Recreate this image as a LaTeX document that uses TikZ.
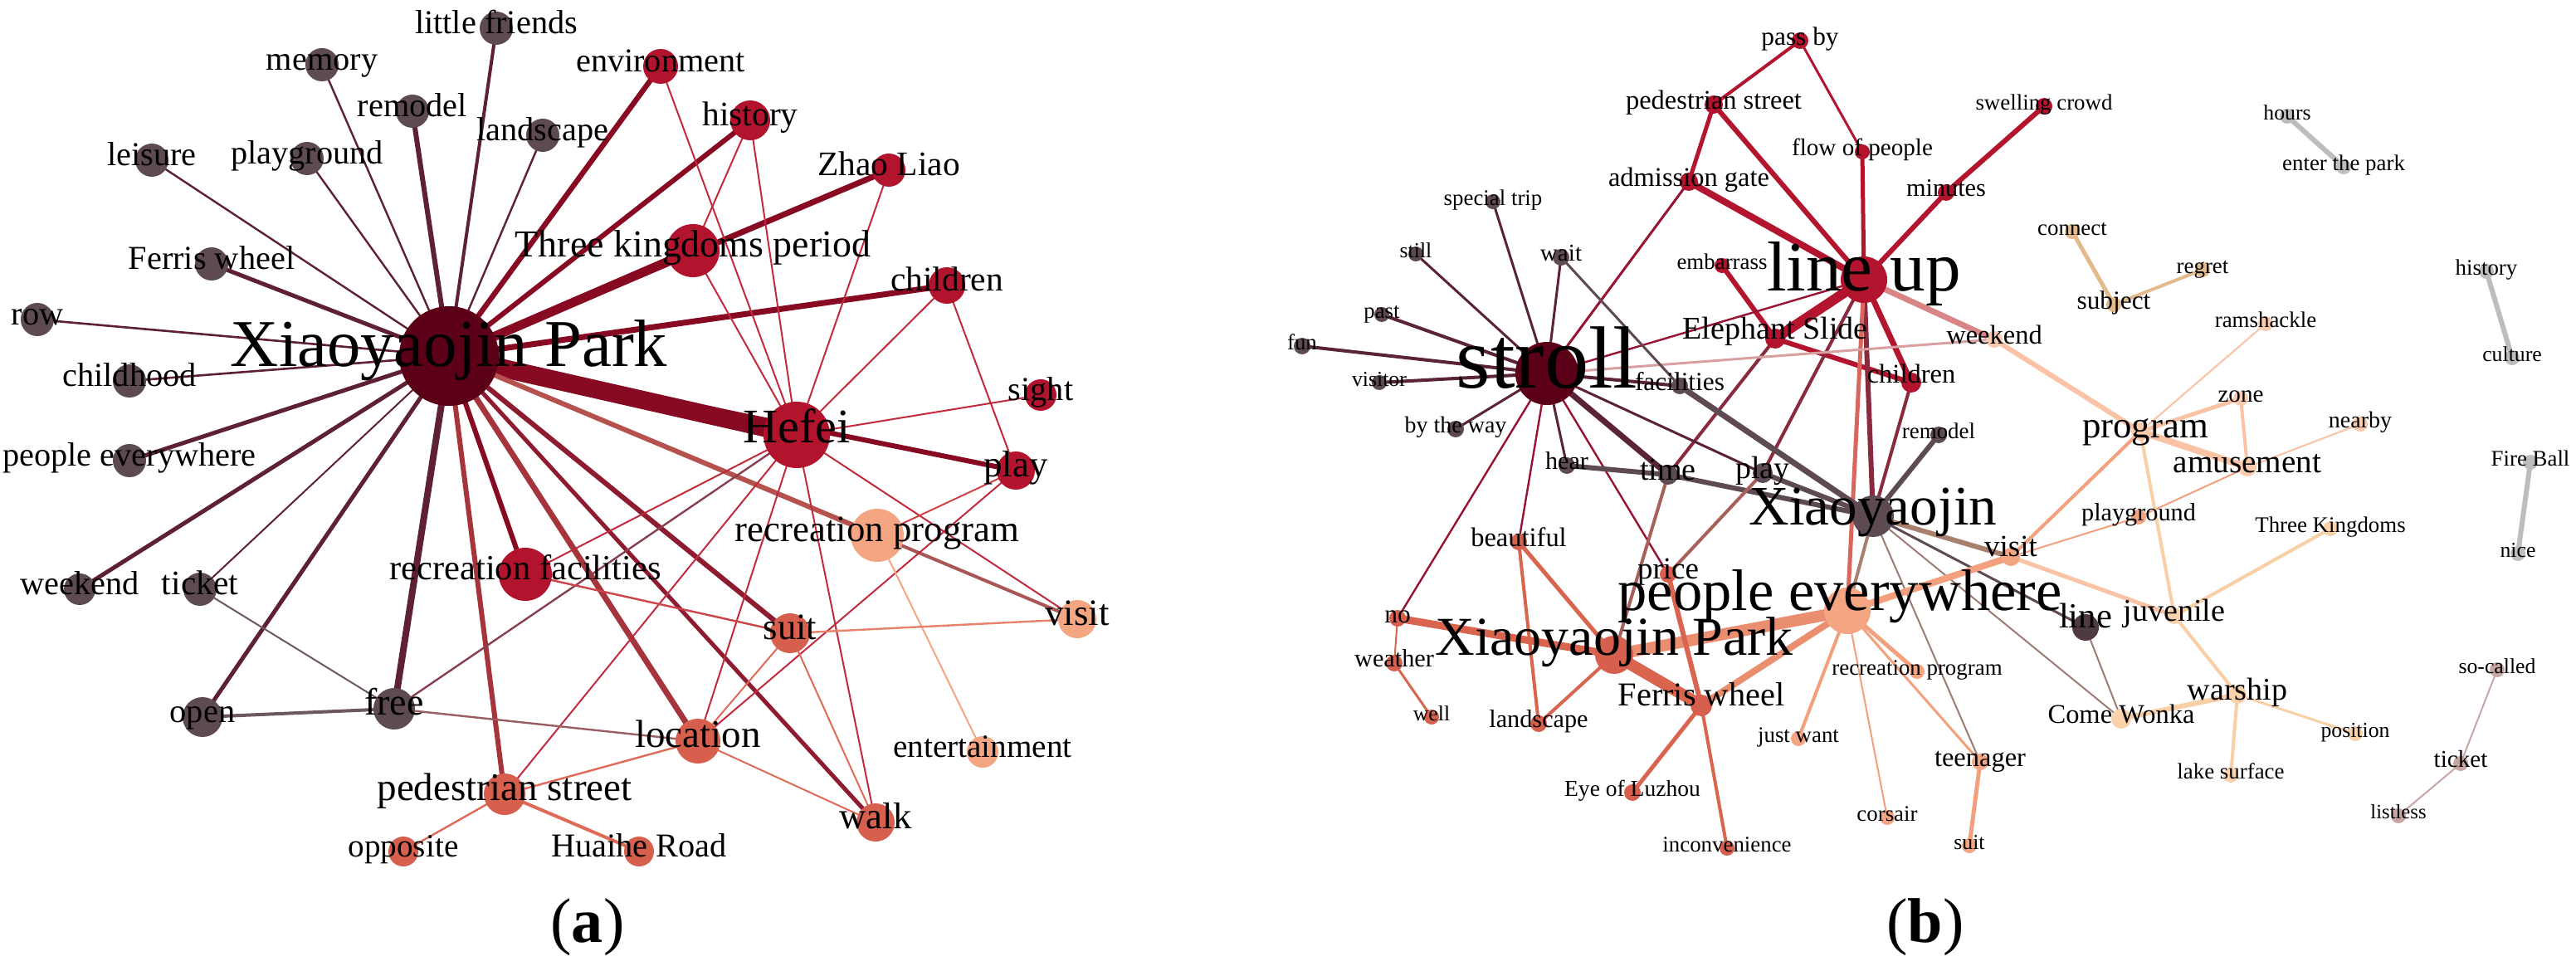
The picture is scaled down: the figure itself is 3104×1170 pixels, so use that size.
\documentclass[tikz,border=0pt]{standalone}
\usepackage{fontspec}
\setmainfont{Liberation Serif}[Scale=1.12]
\pgfdeclarelayer{bg}
\pgfdeclarelayer{edges}
\pgfsetlayers{bg,edges,main}
\definecolor{xpd}{HTML}{5C0017}
\definecolor{crim}{HTML}{B2142D}
\definecolor{mauve}{HTML}{5E4A52}
\definecolor{mauveD}{HTML}{4E3A42}
\definecolor{coral}{HTML}{D6604D}
\definecolor{salmon}{HTML}{F4A582}
\definecolor{peach}{HTML}{FBCBAE}
\definecolor{apricot}{HTML}{FAD2AC}
\definecolor{tanc}{HTML}{E2BA8C}
\definecolor{lgray}{HTML}{BDBDBD}
\definecolor{rosy}{HTML}{C8A6A4}
% edge colours
\definecolor{eXc}{HTML}{880A22}
\definecolor{eXm}{HTML}{5E2035}
\definecolor{eXco}{HTML}{A5343C}
\definecolor{eXs}{HTML}{B5524E}
\definecolor{eXr}{HTML}{8E1B30}
\definecolor{ecc}{HTML}{C22A3E}
\definecolor{emc}{HTML}{88404F}
\definecolor{ecco}{HTML}{CC4448}
\definecolor{ecos}{HTML}{E8826C}
\definecolor{ecor}{HTML}{E06A58}
\definecolor{emco}{HTML}{9A5E62}
\definecolor{emma}{HTML}{6E5860}
\definecolor{erv}{HTML}{A85656}
\definecolor{elu}{HTML}{B3152E}
\definecolor{esm}{HTML}{5B2338}
\definecolor{esc}{HTML}{9A1232}
\definecolor{emm}{HTML}{5E4A52}
\definecolor{elm}{HTML}{8A2A3E}
\definecolor{elpe}{HTML}{D8665E}
\definecolor{elw}{HTML}{D98585}
\definecolor{esw}{HTML}{D8A0A0}
\definecolor{emcob}{HTML}{A8605A}
\definecolor{ems}{HTML}{A8806E}
\definecolor{emp}{HTML}{9C7C74}
\definecolor{ecos2}{HTML}{EA8E70}
\definecolor{ecob}{HTML}{D9654F}
\definecolor{esal}{HTML}{F2A07E}
\definecolor{epch}{HTML}{FAC3A6}
\definecolor{eapr}{HTML}{F9CFA6}
\newcommand{\V}[5]{\node[vtx,fill=#5,minimum size=#4pt] (#1) at (#2,#3) {};}
\newcommand{\E}[4]{\draw[line width=#3pt,draw=#4] (#1.center) -- (#2.center);}
\newcommand{\Lb}[4][0]{\node[lbl,font=\fontsize{#3}{#3}\selectfont,anchor=base,yshift=-0.18*#3pt,yshift=#1pt] at (#2.center) {#4};}
\newcommand{\Lc}[5]{\node[lbl,font=\fontsize{#2}{#2}\selectfont,anchor=base,yshift=-0.18*#2pt,yshift=#4pt,xshift=#3pt] at (#1.center) {#5};}
\begin{document}
\begin{tikzpicture}[x=0.5pt,y=-0.5pt,
  vtx/.style={circle,inner sep=0pt,draw=none},
  lbl/.style={inner sep=0pt,text=black}]
\begin{pgfonlayer}{bg}
\fill[white] (0,0) rectangle (3104,1170);
\end{pgfonlayer}
\useasboundingbox (0,0) rectangle (3104,1170);
% ================= (a) =================
\V{aLF}{598}{34}{20}{mauve}
\V{aMem}{388}{78}{20}{mauve}
\V{aEnv}{796}{80}{21}{crim}
\V{aRem}{497}{134}{20}{mauve}
\V{aHis}{904}{145}{24}{crim}
\V{aLan}{654}{163}{20}{mauve}
\V{aLei}{183}{193}{20}{mauve}
\V{aPlg}{370}{191}{20}{mauve}
\V{aZL}{1071}{205}{20}{crim}
\V{aTK}{835}{302}{32}{crim}
\V{aFW}{255}{318}{20}{mauve}
\V{aChi}{1141}{344}{22}{crim}
\V{aRow}{45}{385}{20}{mauve}
\V{aXP}{541}{429}{60}{xpd}
\V{aChh}{156}{459}{20}{mauve}
\V{aSig}{1254}{476}{19}{crim}
\V{aHef}{960}{524}{40}{crim}
\V{aPE}{156}{555}{20}{mauve}
\V{aPla}{1224}{567}{23}{crim}
\V{aRP}{1057}{645}{32}{salmon}
\V{aRF}{633}{692}{32}{crim}
\V{aWee}{96}{710}{19}{mauve}
\V{aTic}{241}{710}{20}{mauve}
\V{aVis}{1298}{746}{23}{salmon}
\V{aSui}{952}{763}{24}{coral}
\V{aFre}{475}{854}{25}{mauve}
\V{aOpe}{244}{864}{24}{mauve}
\V{aLoc}{841}{893}{27}{coral}
\V{aEnt}{1184}{906}{19}{salmon}
\V{aPS}{608}{957}{25}{coral}
\V{aWal}{1055}{991}{23}{coral}
\V{aOpp}{486}{1026}{18}{coral}
\V{aHR}{770}{1026}{18}{coral}
% ================= (b) =================
\V{bST}{1799}{243}{9}{mauve}
\V{bSti}{1706}{306}{9}{mauve}
\V{bWai}{1881}{310}{10}{mauve}
\V{bPas}{1665}{379}{9}{mauve}
\V{bFun}{1569}{417}{10}{mauve}
\V{bVis}{1662}{461}{9}{mauve}
\V{bBTW}{1754}{517}{10}{mauve}
\V{bHea}{1888}{561}{10}{mauve}
\V{bStr}{1864}{450}{38}{xpd}
\V{bFac}{2024}{465}{10}{mauve}
\V{bTim}{2010}{572}{12}{mauve}
\V{bPla}{2124}{570}{12}{mauve}
\V{bXj}{2257}{622}{25}{mauve}
\V{bRem}{2336}{524}{10}{mauve}
\V{bLin}{2513}{756}{16}{mauveD}
\V{bPB}{2169}{49}{10}{crim}
\V{bPS}{2065}{126}{11}{crim}
\V{bFoP}{2244}{183}{9}{crim}
\V{bAG}{2035}{219}{11}{crim}
\V{bMin}{2345}{232}{10}{crim}
\V{bSwC}{2463}{128}{10}{crim}
\V{bEmb}{2075}{320}{9}{crim}
\V{bLU}{2246}{337}{28}{crim}
\V{bES}{2139}{408}{12}{crim}
\V{bChi}{2303}{461}{12}{crim}
\V{bBea}{1830}{653}{10}{coral}
\V{bPri}{2010}{692}{10}{coral}
\V{bNo}{1684}{745}{10}{coral}
\V{bXPb}{1945}{789}{23}{coral}
\V{bWea}{1680}{799}{10}{coral}
\V{bFWb}{2050}{850}{13}{coral}
\V{bWel}{1725}{864}{9}{coral}
\V{bLan}{1854}{872}{10}{coral}
\V{bEoL}{1967}{955}{10}{coral}
\V{bInc}{2081}{1022}{9}{coral}
\V{bPE}{2226}{736}{28}{salmon}
\V{bRP}{2310}{809}{9}{salmon}
\V{bJW}{2167}{890}{9}{salmon}
\V{bCor}{2274}{985}{9}{salmon}
\V{bTee}{2386}{918}{10}{salmon}
\V{bSui}{2373}{1019}{9}{salmon}
\V{bWee}{2403}{409}{10}{peach}
\V{bPro}{2579}{520}{11}{peach}
\V{bZon}{2700}{480}{9}{peach}
\V{bRam}{2730}{390}{9}{peach}
\V{bNea}{2844}{511}{9}{peach}
\V{bAmu}{2708}{563}{11}{peach}
\V{bPlgb}{2577}{623}{9}{salmon}
\V{bVisb}{2423}{671}{11}{salmon}
\V{bJuv}{2620}{742}{10}{apricot}
\V{bTKb}{2808}{637}{9}{apricot}
\V{bWar}{2696}{837}{11}{apricot}
\V{bCW}{2556}{866}{12}{apricot}
\V{bPos}{2838}{884}{9}{apricot}
\V{bLS}{2688}{934}{9}{apricot}
\V{bHou}{2756}{140}{9}{lgray}
\V{bEtP}{2824}{201}{9}{lgray}
\V{bCon}{2497}{279}{9}{tanc}
\V{bSub}{2547}{367}{9}{tanc}
\V{bReg}{2654}{325}{9}{tanc}
\V{bHisb}{2996}{327}{9}{lgray}
\V{bCul}{3027}{431}{9}{lgray}
\V{bFB}{3049}{557}{9}{lgray}
\V{bNic}{3034}{667}{9}{lgray}
\V{bSoC}{3009}{807}{9}{rosy}
\V{bTicb}{2965}{920}{9}{rosy}
\V{bLis}{2890}{983}{9}{rosy}
\begin{pgfonlayer}{edges}
% ---- (a) edges ----
\E{aXP}{aLF}{2}{eXm}
\E{aXP}{aMem}{1.2}{eXm}
\E{aXP}{aRem}{3}{eXm}
\E{aXP}{aLan}{1.2}{eXm}
\E{aXP}{aLei}{1.2}{eXm}
\E{aXP}{aPlg}{1.2}{eXm}
\E{aXP}{aFW}{2.5}{eXm}
\E{aXP}{aRow}{1.3}{eXm}
\E{aXP}{aChh}{1.3}{eXm}
\E{aXP}{aPE}{2.5}{eXm}
\E{aXP}{aWee}{2.5}{eXm}
\E{aXP}{aTic}{1}{eXm}
\E{aXP}{aOpe}{2.5}{eXm}
\E{aXP}{aFre}{4}{eXm}
\E{aXP}{aEnv}{3.2}{eXc}
\E{aXP}{aHis}{3}{eXc}
\E{aXP}{aZL}{3.5}{eXc}
\E{aXP}{aTK}{5.5}{eXc}
\E{aXP}{aChi}{3.5}{eXc}
\E{aXP}{aHef}{11}{eXc}
\E{aXP}{aPla}{3}{eXc}
\E{aXP}{aRP}{3}{eXs}
\E{aXP}{aRF}{3}{eXc}
\E{aXP}{aSui}{3}{eXr}
\E{aXP}{aLoc}{3.5}{eXco}
\E{aXP}{aWal}{2.5}{eXr}
\E{aXP}{aPS}{3}{eXco}
\E{aRP}{aVis}{2}{erv}
\E{aHef}{aEnv}{1}{ecc}
\E{aHef}{aHis}{1}{ecc}
\E{aHef}{aTK}{1}{ecc}
\E{aHef}{aZL}{1}{ecc}
\E{aHef}{aChi}{1}{ecc}
\E{aHef}{aSig}{1}{ecc}
\E{aHef}{aVis}{1}{ecc}
\E{aHef}{aWal}{1}{ecc}
\E{aHef}{aRF}{1}{ecc}
\E{aHef}{aFre}{1.2}{emc}
\E{aHef}{aPS}{1}{ecc}
\E{aHef}{aLoc}{1}{ecc}
\E{aHis}{aTK}{1}{ecc}
\E{aChi}{aPla}{1}{ecc}
\E{aPla}{aLoc}{1}{ecc}
\E{aPla}{aRP}{1}{ecco}
\E{aRP}{aEnt}{1}{salmon}
\E{aRF}{aSui}{1.2}{ecco}
\E{aSui}{aVis}{1.2}{ecos}
\E{aSui}{aLoc}{1}{ecor}
\E{aSui}{aWal}{1}{ecor}
\E{aLoc}{aWal}{1}{ecor}
\E{aLoc}{aPS}{1.2}{ecor}
\E{aLoc}{aFre}{1.2}{emco}
\E{aFre}{aTic}{1}{emma}
\E{aFre}{aOpe}{2}{emma}
\E{aPS}{aOpp}{1.2}{ecor}
\E{aPS}{aHR}{2}{ecor}
% ---- (b) edges ----
\E{bPB}{bPS}{2}{elu}
\E{bPB}{bFoP}{1.5}{elu}
\E{bPS}{bAG}{2.5}{elu}
\E{bPS}{bLU}{3}{elu}
\E{bAG}{bLU}{4}{elu}
\E{bAG}{bStr}{1.5}{esc}
\E{bFoP}{bLU}{2.5}{elu}
\E{bLU}{bMin}{3}{elu}
\E{bMin}{bSwC}{3}{elu}
\E{bEmb}{bES}{3}{elu}
\E{bES}{bLU}{6}{elu}
\E{bES}{bChi}{3}{elu}
\E{bLU}{bChi}{3.5}{elu}
\E{bLU}{bStr}{1.2}{esc}
\E{bLU}{bXj}{3}{elm}
\E{bLU}{bPE}{2.5}{elpe}
\E{bLU}{bWee}{3.5}{elw}
\E{bLU}{bPla}{2}{elm}
\E{bES}{bTim}{2}{elm}
\E{bChi}{bXj}{2}{elm}
\E{bStr}{bWee}{1.5}{esw}
\E{bStr}{bST}{1.5}{esm}
\E{bStr}{bSti}{1.5}{esm}
\E{bStr}{bPas}{2}{esm}
\E{bStr}{bFun}{2}{esm}
\E{bStr}{bVis}{2}{esm}
\E{bStr}{bBTW}{1.5}{esm}
\E{bStr}{bWai}{1.5}{esm}
\E{bStr}{bHea}{1.5}{esm}
\E{bStr}{bTim}{3.5}{esm}
\E{bStr}{bPla}{1.5}{esm}
\E{bStr}{bFac}{2}{esm}
\E{bStr}{bPri}{1.2}{esc}
\E{bStr}{bBea}{1.2}{esc}
\E{bStr}{bNo}{1.2}{esc}
\E{bWai}{bFac}{1.5}{emm}
\E{bFac}{bXj}{3.5}{emm}
\E{bHea}{bTim}{3}{emm}
\E{bTim}{bXj}{3}{emm}
\E{bPla}{bXj}{3}{emm}
\E{bRem}{bXj}{3}{emm}
\E{bTim}{bXPb}{2}{emcob}
\E{bPla}{bPri}{2}{emcob}
\E{bXj}{bPE}{2}{ems}
\E{bXj}{bVisb}{3}{ems}
\E{bXj}{bLin}{1.5}{emm}
\E{bXj}{bTee}{1}{emp}
\E{bXj}{bCW}{1}{emp}
\E{bLin}{bCW}{1}{emp}
\E{bPE}{bXPb}{7}{ecos2}
\E{bPE}{bFWb}{4}{ecos2}
\E{bPE}{bVisb}{4}{esal}
\E{bPE}{bRP}{2.5}{esal}
\E{bPE}{bJW}{2}{esal}
\E{bPE}{bCor}{1}{esal}
\E{bPE}{bTee}{1.5}{esal}
\E{bTee}{bSui}{2.5}{esal}
\E{bXPb}{bFWb}{7}{ecob}
\E{bXPb}{bNo}{4.5}{ecob}
\E{bXPb}{bBea}{2.5}{ecob}
\E{bXPb}{bLan}{2}{ecob}
\E{bBea}{bLan}{2}{ecob}
\E{bNo}{bWea}{1}{ecob}
\E{bWea}{bWel}{1.5}{ecob}
\E{bFWb}{bEoL}{2.5}{ecob}
\E{bFWb}{bInc}{2}{ecob}
\E{bPri}{bFWb}{3}{ecob}
\E{bWee}{bPro}{3}{epch}
\E{bPro}{bAmu}{4}{epch}
\E{bPro}{bZon}{2.5}{epch}
\E{bZon}{bAmu}{2}{epch}
\E{bPro}{bRam}{1}{epch}
\E{bAmu}{bNea}{1}{epch}
\E{bAmu}{bPlgb}{1}{esal}
\E{bVisb}{bPro}{2}{esal}
\E{bVisb}{bPlgb}{1}{esal}
\E{bVisb}{bJuv}{2.5}{epch}
\E{bPro}{bJuv}{2}{eapr}
\E{bJuv}{bTKb}{2}{eapr}
\E{bJuv}{bWar}{2}{eapr}
\E{bWar}{bCW}{3}{eapr}
\E{bWar}{bPos}{1.5}{eapr}
\E{bWar}{bLS}{2}{eapr}
\E{bHou}{bEtP}{3}{lgray}
\E{bCon}{bSub}{2.5}{tanc}
\E{bSub}{bReg}{2}{tanc}
\E{bHisb}{bCul}{3}{lgray}
\E{bFB}{bNic}{3}{lgray}
\E{bSoC}{bTicb}{1}{rosy}
\E{bTicb}{bLis}{1}{rosy}
\end{pgfonlayer}
% ---- (a) labels ----
\Lb{aLF}{18}{little friends}
\Lb{aMem}{18}{memory}
\Lb{aEnv}{18}{environment}
\Lb{aRem}{18}{remodel}
\Lb{aHis}{18.5}{history}
\Lb{aLan}{18}{landscape}
\Lb{aLei}{18}{leisure}
\Lb{aPlg}{18}{playground}
\Lb{aZL}{18.5}{Zhao Liao}
\Lb{aTK}{20.5}{Three kingdoms period}
\Lb{aFW}{18}{Ferris wheel}
\Lb{aChi}{18.5}{children}
\Lb{aRow}{18}{row}
\Lb{aXP}{36}{Xiaoyaojin Park}
\Lb{aChh}{18}{childhood}
\Lb{aSig}{18}{sight}
\Lb{aHef}{26}{Hefei}
\Lb{aPE}{18}{people everywhere}
\Lb{aPla}{20}{play}
\Lb{aRP}{20}{recreation program}
\Lb{aRF}{19}{recreation facilities}
\Lb{aWee}{18}{weekend}
\Lb{aTic}{18.5}{ticket}
\Lb{aVis}{20}{visit}
\Lb{aSui}{20}{suit}
\Lb{aFre}{20.5}{free}
\Lb{aOpe}{18}{open}
\Lb{aLoc}{21}{location}
\Lb{aEnt}{17.5}{entertainment}
\Lb{aPS}{21}{pedestrian street}
\Lb{aWal}{20}{walk}
\Lb{aOpp}{17.5}{opposite}
\Lb{aHR}{18}{Huaihe Road}
% ---- (b) labels ----
\Lb{bST}{12}{special trip}
\Lb{bSti}{11.5}{still}
\Lb{bWai}{13}{wait}
\Lb{bPas}{12}{past}
\Lb{bFun}{12}{fun}
\Lb{bVis}{11.5}{visitor}
\Lb{bBTW}{12.5}{by the way}
\Lb{bHea}{13.5}{hear}
\Lb{bStr}{47.5}{stroll}
\Lb{bFac}{14}{facilities}
\Lb{bTim}{17}{time}
\Lb{bPla}{17}{play}
\Lb{bXj}{30}{Xiaoyaojin}
\Lb{bRem}{12}{remodel}
\Lb[3.4]{bLin}{19}{line}
\Lb{bPB}{14}{pass by}
\Lb{bPS}{14.5}{pedestrian street}
\Lb{bFoP}{13}{flow of people}
\Lb{bAG}{14.5}{admission gate}
\Lb{bMin}{13.5}{minutes}
\Lb{bSwC}{12}{swelling crowd}
\Lb{bEmb}{12}{embarrass}
\Lb{bLU}{38}{line up}
\Lb[3]{bES}{17}{Elephant Slide}
\Lb[2.6]{bChi}{14.5}{children}
\Lb{bBea}{14.5}{beautiful}
\Lb{bPri}{16.5}{price}
\Lb{bNo}{14}{no}
\Lb[5.3]{bXPb}{29.5}{Xiaoyaojin Park}
\Lb{bWea}{13.5}{weather}
\Lb[3.2]{bFWb}{18}{Ferris wheel}
\Lb{bWel}{11.5}{well}
\Lb{bLan}{13.5}{landscape}
\Lb{bEoL}{12.3}{Eye of Luzhou}
\Lb{bInc}{12}{inconvenience}
\Lc{bPE}{31.5}{-4.5}{5.7}{people everywhere}
\Lb{bRP}{12}{recreation program}
\Lb{bJW}{12}{just want}
\Lb{bCor}{12}{corsair}
\Lb{bTee}{14.5}{teenager}
\Lb{bSui}{11.5}{suit}
\Lb{bWee}{14.5}{weekend}
\Lc{bPro}{20}{3}{0}{program}
\Lb{bZon}{13}{zone}
\Lb{bRam}{12}{ramshackle}
\Lb{bNea}{12.5}{nearby}
\Lb{bAmu}{17.5}{amusement}
\Lb{bPlgb}{13.5}{playground}
\Lb[3]{bVisb}{16.5}{visit}
\Lb{bJuv}{17}{juvenile}
\Lb{bTKb}{12}{Three Kingdoms}
\Lb{bWar}{17}{warship}
\Lb{bCW}{14.5}{Come Wonka}
\Lb{bPos}{11.5}{position}
\Lb{bLS}{12}{lake surface}
\Lb{bHou}{11.5}{hours}
\Lb{bEtP}{12}{enter the park}
\Lb{bCon}{12}{connect}
\Lb{bSub}{14}{subject}
\Lb{bReg}{12}{regret}
\Lb{bHisb}{12}{history}
\Lb{bCul}{11.5}{culture}
\Lb{bFB}{12}{Fire Ball}
\Lb{bNic}{11.5}{nice}
\Lb{bSoC}{11.5}{so-called}
\Lb{bTicb}{13}{ticket}
\Lb{bLis}{11}{listless}
% ---- panel captions ----
\node[lbl,font=\fontsize{34}{34}\selectfont,anchor=base] (capA) at (708,1135) {(\textbf{a})};
\node[lbl,font=\fontsize{34}{34}\selectfont,anchor=base] (capB) at (2320,1135) {(\textbf{b})};
\end{tikzpicture}
\end{document}
